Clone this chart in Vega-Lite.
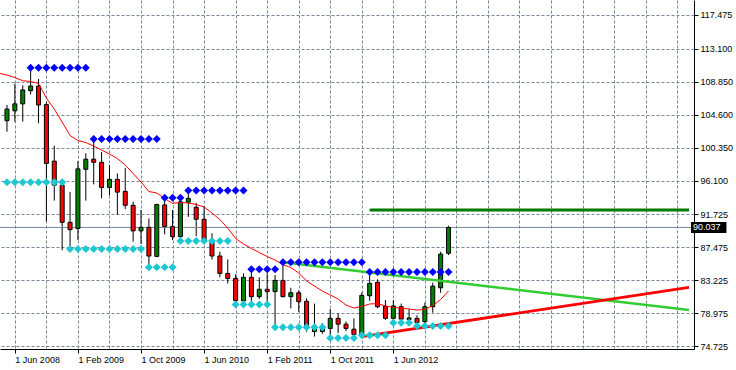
{
  "$schema": "https://vega.github.io/schema/vega-lite/v6.json",
  "width": 694,
  "height": 349,
  "autosize": {"type": "none"},
  "padding": {"left": 0, "top": 0, "right": 42, "bottom": 21},
  "background": "white",
  "config": {
    "view": {"stroke": null},
    "axis": {"labelFont": "Liberation Sans", "labelFontSize": 9, "labelColor": "#000000", "domainColor": "#000000", "tickColor": "#000000", "gridColor": "#778899", "gridDash": [3, 2], "gridOpacity": 1, "gridWidth": 1}
  },
  "resolve": {"scale": {"color": "independent", "strokeWidth": "independent"}},
  "datasets": {
    "candles": [
      {"k": 0, "m": "2008-05", "o": 103.82, "h": 105.85, "l": 102.4, "c": 105.33},
      {"k": 1, "m": "2008-06", "o": 105.1, "h": 108.6, "l": 103.7, "c": 106.0},
      {"k": 2, "m": "2008-07", "o": 106.0, "h": 108.4, "l": 103.7, "c": 107.8},
      {"k": 3, "m": "2008-08", "o": 107.7, "h": 110.6, "l": 107.2, "c": 108.3},
      {"k": 4, "m": "2008-09", "o": 108.3, "h": 109.2, "l": 103.5, "c": 105.85},
      {"k": 5, "m": "2008-10", "o": 105.9, "h": 106.2, "l": 90.8, "c": 98.3},
      {"k": 6, "m": "2008-11", "o": 98.6, "h": 100.6, "l": 93.5, "c": 95.5},
      {"k": 7, "m": "2008-12", "o": 95.5, "h": 96.3, "l": 87.1, "c": 90.7},
      {"k": 8, "m": "2009-01", "o": 90.7, "h": 94.6, "l": 87.25, "c": 89.75},
      {"k": 9, "m": "2009-02", "o": 89.9, "h": 98.6, "l": 88.4, "c": 97.6},
      {"k": 10, "m": "2009-03", "o": 97.55, "h": 99.6, "l": 93.5, "c": 98.85},
      {"k": 11, "m": "2009-04", "o": 98.85, "h": 101.45, "l": 95.6, "c": 98.45},
      {"k": 12, "m": "2009-05", "o": 98.45, "h": 99.8, "l": 93.8, "c": 95.2},
      {"k": 13, "m": "2009-06", "o": 95.2, "h": 98.1, "l": 94.2, "c": 96.25},
      {"k": 14, "m": "2009-07", "o": 96.25, "h": 97.0, "l": 91.7, "c": 94.6},
      {"k": 15, "m": "2009-08", "o": 94.7, "h": 97.7, "l": 92.4, "c": 92.9},
      {"k": 16, "m": "2009-09", "o": 92.9, "h": 93.35, "l": 88.2, "c": 89.6},
      {"k": 17, "m": "2009-10", "o": 89.6, "h": 92.3, "l": 87.9, "c": 90.05},
      {"k": 18, "m": "2009-11", "o": 90.05, "h": 91.2, "l": 84.9, "c": 86.35},
      {"k": 19, "m": "2009-12", "o": 86.3, "h": 93.1, "l": 86.2, "c": 93.0},
      {"k": 20, "m": "2010-01", "o": 92.95, "h": 93.9, "l": 89.15, "c": 90.15},
      {"k": 21, "m": "2010-02", "o": 90.15, "h": 92.3, "l": 88.4, "c": 88.85},
      {"k": 22, "m": "2010-03", "o": 88.85, "h": 93.6, "l": 88.3, "c": 93.35},
      {"k": 23, "m": "2010-04", "o": 93.3, "h": 94.8, "l": 91.4, "c": 93.8},
      {"k": 24, "m": "2010-05", "o": 92.65, "h": 93.2, "l": 88.9, "c": 91.1},
      {"k": 25, "m": "2010-06", "o": 91.1, "h": 92.8, "l": 88.2, "c": 88.35},
      {"k": 26, "m": "2010-07", "o": 88.35, "h": 89.3, "l": 85.9, "c": 86.35},
      {"k": 27, "m": "2010-08", "o": 86.35, "h": 86.9, "l": 83.6, "c": 84.1},
      {"k": 28, "m": "2010-09", "o": 84.1, "h": 85.9, "l": 82.8, "c": 83.45},
      {"k": 29, "m": "2010-10", "o": 83.45, "h": 84.0, "l": 80.1, "c": 80.6},
      {"k": 30, "m": "2010-11", "o": 80.55, "h": 84.1, "l": 80.2, "c": 83.6},
      {"k": 31, "m": "2010-12", "o": 83.6, "h": 84.63, "l": 80.45, "c": 81.1},
      {"k": 32, "m": "2011-01", "o": 81.1, "h": 83.6, "l": 80.8, "c": 82.05},
      {"k": 33, "m": "2011-02", "o": 82.05, "h": 84.1, "l": 80.5, "c": 81.75},
      {"k": 34, "m": "2011-03", "o": 81.75, "h": 83.9, "l": 77.14, "c": 83.2},
      {"k": 35, "m": "2011-04", "o": 83.2, "h": 85.53, "l": 81.0, "c": 81.1},
      {"k": 36, "m": "2011-05", "o": 81.1, "h": 82.25, "l": 79.6, "c": 81.6},
      {"k": 37, "m": "2011-06", "o": 81.6, "h": 81.9, "l": 79.15, "c": 80.45},
      {"k": 38, "m": "2011-07", "o": 80.5, "h": 80.9, "l": 76.55, "c": 77.35},
      {"k": 39, "m": "2011-08", "o": 77.0, "h": 80.2, "l": 75.95, "c": 76.6},
      {"k": 40, "m": "2011-09", "o": 76.6, "h": 77.7, "l": 76.3, "c": 77.1},
      {"k": 41, "m": "2011-10", "o": 77.0, "h": 79.5, "l": 75.76, "c": 78.3},
      {"k": 42, "m": "2011-11", "o": 78.3, "h": 78.95, "l": 76.4, "c": 77.55},
      {"k": 43, "m": "2011-12", "o": 77.55, "h": 77.9, "l": 76.65, "c": 77.0},
      {"k": 44, "m": "2012-01", "o": 76.9, "h": 78.3, "l": 76.15, "c": 76.2},
      {"k": 45, "m": "2012-02", "o": 76.15, "h": 81.65, "l": 76.1, "c": 81.27},
      {"k": 46, "m": "2012-03", "o": 81.22, "h": 84.28, "l": 80.57, "c": 82.82},
      {"k": 47, "m": "2012-04", "o": 82.95, "h": 83.34, "l": 79.6, "c": 79.8},
      {"k": 48, "m": "2012-05", "o": 79.85, "h": 80.66, "l": 78.1, "c": 78.3},
      {"k": 49, "m": "2012-06", "o": 78.3, "h": 80.66, "l": 77.7, "c": 79.9},
      {"k": 50, "m": "2012-07", "o": 79.8, "h": 80.2, "l": 77.9, "c": 78.2},
      {"k": 51, "m": "2012-08", "o": 78.15, "h": 79.5, "l": 77.65, "c": 78.35},
      {"k": 52, "m": "2012-09", "o": 78.3, "h": 78.7, "l": 77.3, "c": 77.75},
      {"k": 53, "m": "2012-10", "o": 77.87, "h": 80.3, "l": 77.6, "c": 79.8},
      {"k": 54, "m": "2012-11", "o": 79.8, "h": 82.9, "l": 79.03, "c": 82.46},
      {"k": 55, "m": "2012-12", "o": 82.25, "h": 86.9, "l": 81.6, "c": 86.6},
      {"k": 56, "m": "2013-01", "o": 86.7, "h": 90.26, "l": 86.48, "c": 90.037}
    ],
    "ma": [
      {"k": -1, "p": 109.95}, {"k": 0, "p": 109.72}, {"k": 1, "p": 109.4}, {"k": 2, "p": 108.99}, {"k": 3, "p": 108.88},
      {"k": 4, "p": 108.63}, {"k": 5, "p": 106.75}, {"k": 6, "p": 105.33}, {"k": 7, "p": 103.65}, {"k": 8, "p": 101.91},
      {"k": 9, "p": 101.27}, {"k": 10, "p": 101.0}, {"k": 11, "p": 100.55}, {"k": 12, "p": 100.04}, {"k": 13, "p": 99.52},
      {"k": 14, "p": 98.94}, {"k": 15, "p": 98.1}, {"k": 16, "p": 97.0}, {"k": 17, "p": 95.9}, {"k": 18, "p": 94.68},
      {"k": 19, "p": 94.49}, {"k": 20, "p": 93.77}, {"k": 21, "p": 93.15}, {"k": 22, "p": 93.26}, {"k": 23, "p": 93.19},
      {"k": 24, "p": 93.0}, {"k": 25, "p": 92.68}, {"k": 26, "p": 91.9}, {"k": 27, "p": 91.06}, {"k": 28, "p": 89.96},
      {"k": 29, "p": 88.61}, {"k": 30, "p": 87.9}, {"k": 31, "p": 87.32}, {"k": 32, "p": 86.8}, {"k": 33, "p": 86.28},
      {"k": 34, "p": 85.83}, {"k": 35, "p": 85.25}, {"k": 36, "p": 84.86}, {"k": 37, "p": 84.15}, {"k": 38, "p": 83.12},
      {"k": 39, "p": 82.47}, {"k": 40, "p": 81.83}, {"k": 41, "p": 81.31}, {"k": 42, "p": 80.8}, {"k": 43, "p": 80.02},
      {"k": 44, "p": 79.63}, {"k": 45, "p": 79.83}, {"k": 46, "p": 80.15}, {"k": 47, "p": 80.21}, {"k": 48, "p": 79.89},
      {"k": 49, "p": 79.72}, {"k": 50, "p": 79.63}, {"k": 51, "p": 79.5}, {"k": 52, "p": 79.37}, {"k": 53, "p": 79.44},
      {"k": 54, "p": 79.95}, {"k": 55, "p": 80.73}, {"k": 56, "p": 81.83}
    ],
    "levels": [
      {"k": 3, "p": 110.67, "s": "hi"}, {"k": 4, "p": 110.67, "s": "hi"}, {"k": 5, "p": 110.67, "s": "hi"}, {"k": 6, "p": 110.67, "s": "hi"},
      {"k": 7, "p": 110.67, "s": "hi"}, {"k": 8, "p": 110.67, "s": "hi"}, {"k": 9, "p": 110.67, "s": "hi"}, {"k": 10, "p": 110.67, "s": "hi"},
      {"k": 11, "p": 101.46, "s": "hi"}, {"k": 12, "p": 101.46, "s": "hi"}, {"k": 13, "p": 101.46, "s": "hi"}, {"k": 14, "p": 101.46, "s": "hi"},
      {"k": 15, "p": 101.46, "s": "hi"}, {"k": 16, "p": 101.46, "s": "hi"}, {"k": 17, "p": 101.46, "s": "hi"}, {"k": 18, "p": 101.46, "s": "hi"},
      {"k": 19, "p": 101.46, "s": "hi"},
      {"k": 20, "p": 93.88, "s": "hi"}, {"k": 21, "p": 93.88, "s": "hi"}, {"k": 22, "p": 93.88, "s": "hi"},
      {"k": 23, "p": 94.81, "s": "hi"}, {"k": 24, "p": 94.81, "s": "hi"}, {"k": 25, "p": 94.81, "s": "hi"}, {"k": 26, "p": 94.81, "s": "hi"},
      {"k": 27, "p": 94.81, "s": "hi"}, {"k": 28, "p": 94.81, "s": "hi"}, {"k": 29, "p": 94.81, "s": "hi"}, {"k": 30, "p": 94.81, "s": "hi"},
      {"k": 31, "p": 84.63, "s": "hi"}, {"k": 32, "p": 84.63, "s": "hi"}, {"k": 33, "p": 84.63, "s": "hi"}, {"k": 34, "p": 84.63, "s": "hi"},
      {"k": 35, "p": 85.53, "s": "hi"}, {"k": 36, "p": 85.53, "s": "hi"}, {"k": 37, "p": 85.53, "s": "hi"}, {"k": 38, "p": 85.53, "s": "hi"},
      {"k": 39, "p": 85.53, "s": "hi"}, {"k": 40, "p": 85.53, "s": "hi"}, {"k": 41, "p": 85.53, "s": "hi"}, {"k": 42, "p": 85.53, "s": "hi"},
      {"k": 43, "p": 85.53, "s": "hi"}, {"k": 44, "p": 85.53, "s": "hi"}, {"k": 45, "p": 85.53, "s": "hi"},
      {"k": 46, "p": 84.28, "s": "hi"}, {"k": 47, "p": 84.28, "s": "hi"}, {"k": 48, "p": 84.28, "s": "hi"}, {"k": 49, "p": 84.28, "s": "hi"},
      {"k": 50, "p": 84.28, "s": "hi"}, {"k": 51, "p": 84.28, "s": "hi"}, {"k": 52, "p": 84.28, "s": "hi"}, {"k": 53, "p": 84.28, "s": "hi"},
      {"k": 54, "p": 84.28, "s": "hi"}, {"k": 55, "p": 84.28, "s": "hi"}, {"k": 56, "p": 84.28, "s": "hi"},
      {"k": 0, "p": 95.87, "s": "lo"}, {"k": 1, "p": 95.87, "s": "lo"}, {"k": 2, "p": 95.87, "s": "lo"}, {"k": 3, "p": 95.87, "s": "lo"},
      {"k": 4, "p": 95.87, "s": "lo"}, {"k": 5, "p": 95.87, "s": "lo"}, {"k": 6, "p": 95.87, "s": "lo"}, {"k": 7, "p": 95.87, "s": "lo"},
      {"k": 8, "p": 87.25, "s": "lo"}, {"k": 9, "p": 87.25, "s": "lo"}, {"k": 10, "p": 87.25, "s": "lo"}, {"k": 11, "p": 87.25, "s": "lo"},
      {"k": 12, "p": 87.25, "s": "lo"}, {"k": 13, "p": 87.25, "s": "lo"}, {"k": 14, "p": 87.25, "s": "lo"}, {"k": 15, "p": 87.25, "s": "lo"},
      {"k": 16, "p": 87.25, "s": "lo"}, {"k": 17, "p": 87.25, "s": "lo"},
      {"k": 18, "p": 84.89, "s": "lo"}, {"k": 19, "p": 84.89, "s": "lo"}, {"k": 20, "p": 84.89, "s": "lo"}, {"k": 21, "p": 84.89, "s": "lo"},
      {"k": 22, "p": 88.29, "s": "lo"}, {"k": 23, "p": 88.29, "s": "lo"}, {"k": 24, "p": 88.29, "s": "lo"}, {"k": 25, "p": 88.29, "s": "lo"},
      {"k": 26, "p": 88.29, "s": "lo"}, {"k": 27, "p": 88.29, "s": "lo"}, {"k": 28, "p": 88.29, "s": "lo"},
      {"k": 29, "p": 80.1, "s": "lo"}, {"k": 30, "p": 80.1, "s": "lo"}, {"k": 31, "p": 80.1, "s": "lo"}, {"k": 32, "p": 80.1, "s": "lo"},
      {"k": 33, "p": 80.1, "s": "lo"},
      {"k": 34, "p": 77.14, "s": "lo"}, {"k": 35, "p": 77.14, "s": "lo"}, {"k": 36, "p": 77.14, "s": "lo"}, {"k": 37, "p": 77.14, "s": "lo"},
      {"k": 38, "p": 77.14, "s": "lo"}, {"k": 39, "p": 77.14, "s": "lo"}, {"k": 40, "p": 77.14, "s": "lo"},
      {"k": 41, "p": 75.76, "s": "lo"}, {"k": 42, "p": 75.76, "s": "lo"}, {"k": 43, "p": 75.76, "s": "lo"}, {"k": 44, "p": 75.76, "s": "lo"},
      {"k": 45, "p": 76.12, "s": "lo"}, {"k": 46, "p": 76.12, "s": "lo"}, {"k": 47, "p": 76.12, "s": "lo"}, {"k": 48, "p": 76.12, "s": "lo"},
      {"k": 49, "p": 77.73, "s": "lo"}, {"k": 50, "p": 77.73, "s": "lo"}, {"k": 51, "p": 77.73, "s": "lo"},
      {"k": 52, "p": 77.31, "s": "lo"}, {"k": 53, "p": 77.31, "s": "lo"}, {"k": 54, "p": 77.31, "s": "lo"}, {"k": 55, "p": 77.31, "s": "lo"},
      {"k": 56, "p": 77.31, "s": "lo"}
    ],
    "trend": [
      {"line": "resistance", "k": 35, "p": 85.53},
      {"line": "resistance", "k": 86.5, "p": 79.37},
      {"line": "support", "k": 45, "p": 75.95},
      {"line": "support", "k": 86.5, "p": 82.3},
      {"line": "target", "k": 46, "p": 92.29},
      {"line": "target", "k": 86.5, "p": 92.29}
    ],
    "bid": [{"p": 90.037}]
  },
  "layer": [
    {
      "data": {"name": "candles"},
      "mark": {"type": "rule", "color": "#000000", "strokeWidth": 1},
      "encoding": {
        "x": {"field": "k", "type": "quantitative", "scale": {"domain": [-0.25, 86.5], "nice": false, "zero": false},
          "axis": {"orient": "bottom", "title": null, "values": [1, 5, 9, 13, 17, 21, 25, 29, 33, 37, 41, 45, 49, 53, 57, 61, 65, 69, 73, 77, 81, 85], "tickCount": 40, "grid": true, "tickSize": 4, "labelPadding": 2, "labelAlign": "left", "labelBaseline": "top", "labelFlush": false, "labelOverlap": false, "labelBound": false,
            "tickOpacity": {"condition": {"test": "(datum.value - 1) % 8 === 0 && datum.value <= 49", "value": 1}, "value": 0},
            "labelExpr": "datum.value === 1 ? '1 Jun 2008' : datum.value === 9 ? '1 Feb 2009' : datum.value === 17 ? '1 Oct 2009' : datum.value === 25 ? '1 Jun 2010' : datum.value === 33 ? '1 Feb 2011' : datum.value === 41 ? '1 Oct 2011' : datum.value === 49 ? '1 Jun 2012' : ''"}},
        "y": {"field": "l", "type": "quantitative", "scale": {"domain": [74.34, 119.411], "nice": false, "zero": false},
          "axis": {"orient": "right", "title": null, "values": [117.475, 113.1, 108.85, 104.6, 100.35, 96.1, 91.725, 87.475, 83.225, 78.975, 74.725], "tickCount": 30, "format": ".3f", "grid": true, "tickSize": 4, "labelPadding": 2, "labelOverlap": false, "labelFlush": false, "labelBound": false}},
        "y2": {"field": "h"}
      }
    },
    {
      "data": {"name": "bid"},
      "mark": {"type": "rule", "color": "#778899", "strokeWidth": 1},
      "encoding": {
        "y": {"field": "p", "type": "quantitative", "scale": {"domain": [74.34, 119.411], "nice": false, "zero": false}, "axis": {"title": null}}
      }
    },
    {
      "data": {"name": "candles"},
      "mark": {"type": "bar", "width": 4, "stroke": "#000000", "strokeWidth": 1},
      "encoding": {
        "x": {"field": "k", "type": "quantitative", "scale": {"domain": [-0.25, 86.5], "nice": false, "zero": false}, "axis": {"title": null}},
        "y": {"field": "o", "type": "quantitative", "scale": {"domain": [74.34, 119.411], "nice": false, "zero": false}, "axis": {"title": null}},
        "y2": {"field": "c"},
        "color": {"condition": {"test": "datum.c >= datum.o", "value": "#008000"}, "value": "#ff0000"}
      }
    },
    {
      "data": {"name": "ma"},
      "mark": {"type": "line", "color": "#ff0000", "strokeWidth": 1},
      "encoding": {
        "x": {"field": "k", "type": "quantitative", "scale": {"domain": [-0.25, 86.5], "nice": false, "zero": false}, "axis": {"title": null}},
        "y": {"field": "p", "type": "quantitative", "scale": {"domain": [74.34, 119.411], "nice": false, "zero": false}, "axis": {"title": null}}
      }
    },
    {
      "data": {"name": "trend"},
      "mark": {"type": "line", "strokeCap": "butt"},
      "encoding": {
        "x": {"field": "k", "type": "quantitative", "scale": {"domain": [-0.25, 86.5], "nice": false, "zero": false}, "axis": {"title": null}},
        "y": {"field": "p", "type": "quantitative", "scale": {"domain": [74.34, 119.411], "nice": false, "zero": false}, "axis": {"title": null}},
        "detail": {"field": "line"},
        "color": {"field": "line", "type": "nominal", "scale": {"domain": ["resistance", "support", "target"], "range": ["#32cd32", "#ff0000", "#007a00"]}, "legend": null},
        "strokeWidth": {"field": "line", "type": "nominal", "scale": {"domain": ["resistance", "support", "target"], "range": [2.5, 3, 3.5]}, "legend": null}
      }
    },
    {
      "data": {"name": "levels"},
      "mark": {"type": "point", "shape": "diamond", "filled": true, "size": 64, "opacity": 1},
      "encoding": {
        "x": {"field": "k", "type": "quantitative", "scale": {"domain": [-0.25, 86.5], "nice": false, "zero": false}, "axis": {"title": null}},
        "y": {"field": "p", "type": "quantitative", "scale": {"domain": [74.34, 119.411], "nice": false, "zero": false}, "axis": {"title": null}},
        "color": {"field": "s", "type": "nominal", "scale": {"domain": ["hi", "lo"], "range": ["#0000ff", "#1ec8d2"]}, "legend": null}
      }
    },
    {
      "data": {"name": "bid"},
      "mark": {"type": "rule", "color": "#000000", "strokeWidth": 11, "strokeCap": "butt"},
      "encoding": {
        "x": {"datum": 86.75, "type": "quantitative", "scale": {"domain": [-0.25, 86.5], "nice": false, "zero": false}, "axis": {"title": null}},
        "x2": {"datum": 91.25},
        "y": {"field": "p", "type": "quantitative", "scale": {"domain": [74.34, 119.411], "nice": false, "zero": false}, "axis": {"title": null}}
      }
    },
    {
      "data": {"name": "bid"},
      "mark": {"type": "text", "color": "#ffffff", "font": "Liberation Sans", "fontSize": 9, "align": "center", "baseline": "middle"},
      "encoding": {
        "x": {"datum": 88.75, "type": "quantitative", "scale": {"domain": [-0.25, 86.5], "nice": false, "zero": false}, "axis": {"title": null}},
        "y": {"field": "p", "type": "quantitative", "scale": {"domain": [74.34, 119.411], "nice": false, "zero": false}, "axis": {"title": null}},
        "text": {"field": "p", "type": "quantitative", "format": ".3f"}
      }
    }
  ]
}
